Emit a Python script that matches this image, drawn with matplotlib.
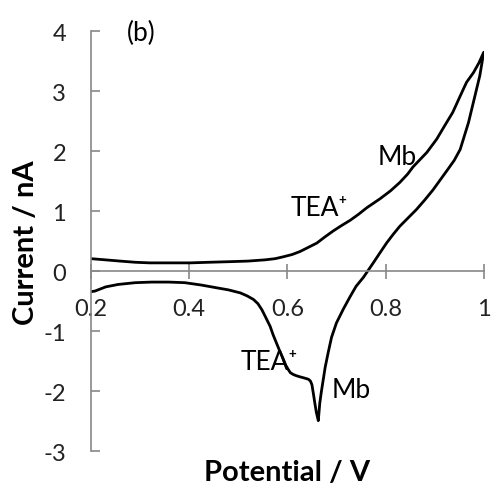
import matplotlib.pyplot as plt

plt.rcParams["font.family"] = ["Lato", "DejaVu Sans"]
plt.rcParams["axes.unicode_minus"] = False

# forward scan (0.2 V -> 1 V)
fwd_potential = [0.200, 0.230, 0.259, 0.290, 0.320, 0.360, 0.402, 0.440, 0.483, 0.520,
                 0.554, 0.575, 0.591, 0.610, 0.626, 0.643, 0.660, 0.676, 0.693, 0.710,
                 0.728, 0.745, 0.762, 0.789, 0.810, 0.829, 0.845, 0.856, 0.870, 0.884,
                 0.904, 0.920, 0.937, 0.952, 0.965, 0.979, 0.990, 1.000]
fwd_current = [0.21, 0.19, 0.17, 0.15, 0.14, 0.14, 0.14, 0.15, 0.16, 0.17,
               0.19, 0.21, 0.24, 0.28, 0.33, 0.40, 0.47, 0.57, 0.67, 0.76,
               0.85, 0.95, 1.06, 1.21, 1.34, 1.48, 1.62, 1.74, 1.86, 1.98,
               2.20, 2.42, 2.65, 2.92, 3.15, 3.31, 3.47, 3.65]

# reverse scan (1 V -> 0.2 V)
rev_potential = [1.000, 0.992, 0.982, 0.969, 0.952, 0.940, 0.927, 0.912, 0.897, 0.880,
                 0.863, 0.846, 0.829, 0.815, 0.802, 0.788, 0.775, 0.765, 0.755, 0.740,
                 0.728, 0.714, 0.700, 0.690, 0.683, 0.677, 0.673, 0.669, 0.666, 0.663,
                 0.659, 0.656, 0.653, 0.650, 0.647, 0.643, 0.635, 0.626, 0.618, 0.612,
                 0.606, 0.602, 0.597, 0.592, 0.585, 0.578, 0.571, 0.565, 0.556, 0.548,
                 0.540, 0.531, 0.518, 0.504, 0.480, 0.459, 0.425, 0.391, 0.358, 0.324,
                 0.290, 0.255, 0.230, 0.208, 0.200]
rev_current = [3.65, 3.26, 2.92, 2.48, 2.03, 1.85, 1.70, 1.53, 1.36, 1.19,
               1.03, 0.89, 0.75, 0.61, 0.47, 0.30, 0.14, 0.02, -0.10, -0.25,
               -0.42, -0.63, -0.86, -1.10, -1.36, -1.60, -1.81, -2.02, -2.20, -2.49,
               -2.35, -2.20, -2.04, -1.89, -1.83, -1.80, -1.78, -1.76, -1.74, -1.72,
               -1.69, -1.64, -1.57, -1.47, -1.34, -1.20, -1.06, -0.92, -0.77, -0.64,
               -0.54, -0.47, -0.41, -0.36, -0.31, -0.28, -0.23, -0.19, -0.18, -0.18,
               -0.19, -0.22, -0.26, -0.33, -0.34]

x_ticks = [0.2, 0.4, 0.6, 0.8, 1.0]
x_tick_labels = ["0.2", "0.4", "0.6", "0.8", "1"]
y_ticks = [-3, -2, -1, 0, 1, 2, 3, 4]

fig = plt.figure(figsize=(4.93, 4.89), dpi=100)
ax = fig.add_axes([0.1846, 0.0751, 0.7966, 0.8589])

ax.plot(fwd_potential + rev_potential, fwd_current + rev_current,
        color="black", linewidth=2, solid_joinstyle="round")

ax.set_xlim(0.2, 1.0)
ax.set_ylim(-3, 4)

axis_grey = "#888888"
ax.spines["top"].set_visible(False)
ax.spines["right"].set_visible(False)
ax.spines["bottom"].set_position(("data", 0))
for side in ("left", "bottom"):
    ax.spines[side].set_color(axis_grey)
    ax.spines[side].set_linewidth(1.2)

ax.set_xticks(x_ticks)
ax.set_xticklabels(x_tick_labels)
ax.set_yticks(y_ticks)
ax.tick_params(axis="x", direction="inout", length=10.8, width=1.2, color=axis_grey,
               pad=14, labelsize=17, labelcolor="#222222")
ax.tick_params(axis="y", direction="in", length=6.5, width=1.2, color=axis_grey,
               pad=18, labelsize=17, labelcolor="#222222")

ax.set_xlabel("Potential / V", fontsize=21, fontweight="bold")
ax.set_ylabel("Current / nA", fontsize=21, fontweight="bold")
ax.xaxis.set_label_coords(0.5, -0.018)
ax.yaxis.set_label_coords(-0.132, 0.5)

ax.text(0.302, 3.98, "(b)", fontsize=19, ha="center", va="center")
ax.text(0.664, 1.07, "TEA\u207a", fontsize=19, ha="center", va="center")
ax.text(0.823, 1.92, "Mb", fontsize=19, ha="center", va="center")
ax.text(0.563, -1.50, "TEA\u207a", fontsize=19, ha="center", va="center")
ax.text(0.731, -1.97, "Mb", fontsize=19, ha="center", va="center")

fig.savefig("out.png", dpi=100)
